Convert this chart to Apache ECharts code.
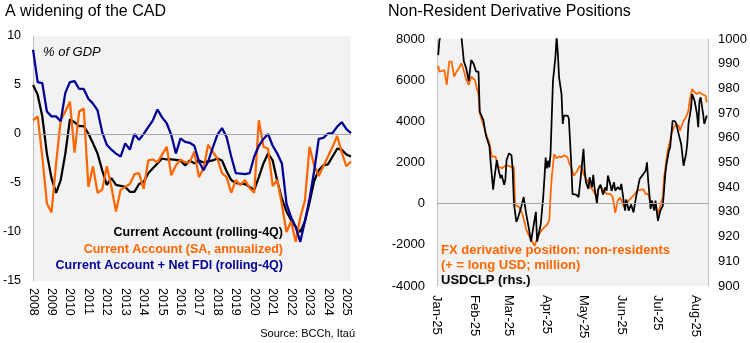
<!DOCTYPE html>
<html><head><meta charset="utf-8">
<script src="https://cdn.jsdelivr.net/npm/echarts@6/dist/echarts.min.js"></script>
<style>html,body{margin:0;padding:0;background:#fff}#c{width:750px;height:343px}</style>
</head><body><div id="c"></div>
<script>
// ---------- Left chart: quarterly, 2008Q1 .. 2025Q2 (% of GDP) ----------
const years = ['2008','2009','2010','2011','2012','2013','2014','2015','2016','2017','2018','2019','2020','2021','2022','2023','2024','2025'];
const caRolling = [5.0, 4.0, 1.8, -2.0, -4.5, -6.0, -4.7, -2.0, 1.5, 1.2,
  0.8, 0.8, 0.05, -0.95, -2.0, -3.7, -5.2, -4.5, -5.2, -5.3,
  -5.4, -5.9, -5.9, -5.1, -4.9, -4.0, -3.5, -3.0, -2.5, -2.6,
  -2.6, -2.65, -2.7, -3.2, -2.7, -3.0, -2.7, -2.9, -2.8, -2.7,
  -2.5, -2.7, -3.8, -4.7, -5.0, -5.1, -5.1, -5.4, -5.7, -4.4,
  -3.0, -2.0, -2.7, -4.8, -6.6, -7.9, -8.8, -9.5, -10.0, -8.9,
  -7.0, -4.8, -3.7, -3.2, -3.1, -2.3, -1.5, -1.6, -2.1, -2.3];
const caSA = [1.4, 1.8, -2.3, -7.1, -8.0, -3.0, 1.4, 2.3, 3.3, -1.9,
  2.3, 2.6, -5.4, -3.3, -6.0, -5.7, -3.3, -5.4, -7.9, -5.7,
  -5.4, -5.1, -4.1, -4.0, -5.6, -2.7, -2.6, -2.9, -2.1, -1.3,
  -4.2, -3.2, -2.6, -2.9, -2.9, -1.8, -4.4, -3.5, -1.1, -1.8,
  -2.5, -4.0, -4.4, -6.0, -4.7, -5.2, -4.7, -5.5, -6.0, 1.4,
  -1.3, -1.5, -5.3, -4.7, -7.2, -10.0, -8.9, -11.0, -8.5, -6.8,
  -1.3, -3.2, -4.3, -3.3, -2.3, -1.3, -0.2, -1.9, -3.3, -2.8];
const caFDI = [8.6, 5.3, 5.2, 2.3, 1.8, 1.8, 1.3, 4.2, 5.3, 5.4,
  4.6, 4.6, 3.6, 3.1, 2.4, 0.2, -1.1, -1.6, -2.0, -2.3,
  -0.95, -1.6, 0.0, -0.6, 0.0, 0.7, 1.4, 2.5, 1.7, 1.1,
  -0.1, -2.0, -0.45, -0.8, -0.9, -1.2, -2.8, -3.7, -2.8, -1.4,
  -0.1, 0.6, -0.3, -2.3, -4.0, -4.05, -4.1, -4.0, -2.3, -1.2,
  -0.5, 0.0, -1.2, -2.0, -3.0, -7.1, -8.5, -9.5, -11.0, -8.9,
  -6.6, -3.8, -0.5, -0.4, 0.05, 0.1, 0.75, 1.2, 0.5, 0.1];

// ---------- Right chart: daily, 2025 ----------
const monthLabels = ['Jan-25','Feb-25','Mar-25','Apr-25','May-25','Jun-25','Jul-25','Aug-25'];
const fxDates = ['01-02','01-03','01-07','01-08','01-09','01-11','01-13','01-14','01-15','01-17','01-19','01-21','01-23','01-25','01-27','01-29',
 '02-01','02-04','02-05','02-08','02-11','02-13','02-15','02-18','02-20','02-23','02-27',
 '03-02','03-05','03-06','03-09','03-12','03-15','03-17','03-20','03-22','03-24','03-26','03-29',
 '04-01','04-03','04-04','04-05','04-07','04-08','04-09','04-11','04-13','04-15','04-18','04-19','04-21','04-23','04-26','04-28','04-30',
 '05-01','05-04','05-06','05-09','05-12','05-14','05-18','05-20','05-23','05-25','05-26','05-27','05-29','05-31',
 '06-03','06-07','06-12','06-14','06-19','06-21','06-23','06-25','06-29',
 '07-01','07-03','07-04','07-05','07-06','07-09','07-11','07-12','07-14','07-16','07-18','07-19','07-20','07-22','07-24','07-26','07-27','07-29','07-30','07-31',
 '08-02','08-03','08-04','08-06','08-07','08-09','08-10'];
const fxValues = [6700,6410,6490,6410,5770,6900,6900,6820,6170,6410,6580,6820,6460,6010,5770,6170,
 6010,5280,4390,3820,3250,2930,2280,2280,1800,1720,1880,
 1800,1770,-70,-150,-500,-1230,-1520,-1850,-2050,-1700,-1440,-1200,
 -1040,-800,400,1280,2410,2500,2200,2300,2250,2350,2250,2010,1770,1360,1600,1850,1700,
 1440,1120,870,630,310,870,630,470,470,310,400,-450,150,300,
 -150,150,470,630,710,470,480,-15,-15,
 -500,-100,145,310,1280,2580,3060,3390,3710,3870,3790,3550,3710,4030,4200,4520,5000,5570,5650,5410,
 5330,5245,5410,5330,5245,5245,4925];
const clpDates = ['01-02','01-03','01-06','01-09','01-12','01-16','01-19','01-21','01-23','01-25','01-27','01-29','01-31',
 '02-02','02-04','02-05','02-08','02-10','02-11','02-13','02-14','02-16','02-17','02-19','02-20','02-22','02-23','02-25','02-26','02-27',
 '03-01','03-03','03-04','03-05','03-07','03-08','03-11','03-13','03-15','03-17','03-19','03-20','03-23','03-24','03-27','03-29','03-30','03-31',
 '04-01','04-02','04-03','04-04','04-05','04-06','04-08','04-09','04-10','04-11','04-13','04-14','04-15','04-18','04-19','04-21','04-22','04-25','04-27','04-29',
 '05-01','05-02','05-03','05-05','05-06','05-08','05-09','05-10','05-12','05-13','05-15','05-17','05-19','05-20','05-21','05-23','05-24','05-26','05-27','05-29','05-31',
 '06-01','06-04','06-05','06-07','06-09','06-11','06-13','06-14','06-16','06-19','06-21','06-22','06-23','06-25','06-26','06-28','06-29',
 '07-01','07-03','07-05','07-07','07-08','07-10','07-11','07-13','07-15','07-16','07-18','07-20','07-22','07-24','07-25','07-26','07-28','07-29','07-30','07-31',
 '08-02','08-03','08-04','08-05','08-07','08-08','08-10'];
const clpValues = [993.5,999.6,1004,1008,1012,1010,1005,1001,991,988,983,991.5,990,
 986.8,986.8,970.6,967.2,961.1,961.8,956.4,949.7,939,943.6,951,948,943.6,945,941,943,951,
 953.7,953,947,933.5,926,927,932,936,929.4,924,918,918,930,918,925,936,943.6,952,
 947.6,950.7,948,953.4,968.3,983,992.6,1001,994,984.5,977.7,965.6,969,969,967.8,949.4,937.2,937,936,945.3,
 955.5,946.7,942,939.3,944,940,945,940,933.2,939,941,937,940,938.6,944.7,941,938.5,942,938.6,940,939,
 941.3,930.5,935,930.5,933,929.8,935.9,935.9,943.3,945.3,946.7,950.1,942.8,931.2,934.6,930.5,934.6,
 926.4,930.5,932.5,945.3,949.4,954.8,956.1,966.9,966.7,965.6,961.5,957.5,948.7,953.4,957.5,965.6,971.7,977.7,976.4,975,
 969.6,964.3,975,976.4,969.6,965.6,969];

// ---------- build categories ----------
const quarters = [];
years.forEach(y => { for (let q = 1; q <= 4; q++) quarters.push(y + 'Q' + q); });
quarters.length = caRolling.length;

const dayCats = [];
for (let d = 0; d <= 222; d++) {
  const dt = new Date(Date.UTC(2025, 0, 1 + d));
  dayCats.push(String(dt.getUTCMonth() + 1).padStart(2, '0') + '-' + String(dt.getUTCDate()).padStart(2, '0'));
}
const toPairs = (dates, vals) => dates.map((s, i) => [dayCats.indexOf(s), vals[i]]);
const plain = (v) => String(v);

const FONT = '"Liberation Sans", Arial, sans-serif';
const ORANGE = '#ff6600', BLUE = '#000096', BLACK = '#000000';
const zeroLine = { silent: true, symbol: 'none', label: { show: false },
  lineStyle: { color: '#a6a6a6', width: 1, type: 'solid' }, data: [{ yAxis: 0 }] };

const chart = echarts.init(document.getElementById('c'), null, { renderer: 'canvas' });
chart.setOption({
  animation: false,
  backgroundColor: '#ffffff',
  textStyle: { fontFamily: FONT },
  grid: [
    { left: 32, right: 399, top: 36, bottom: 62, show: true, backgroundColor: '#f2f2f2', borderWidth: 0 },
    { left: 437, right: 42, top: 39, bottom: 57, show: true, backgroundColor: '#f2f2f2', borderWidth: 0 }
  ],
  xAxis: [
    { type: 'category', gridIndex: 0, data: quarters, boundaryGap: false,
      axisLine: { show: false }, axisTick: { show: false }, splitLine: { show: false },
      axisLabel: { interval: (i) => i % 4 === 0, formatter: (v) => v.slice(0, 4), rotate: -90,
        margin: 7, fontSize: 12.5, color: '#000', fontFamily: FONT } },
    { type: 'category', gridIndex: 1, data: dayCats, boundaryGap: false,
      axisLine: { show: false }, axisTick: { show: false }, splitLine: { show: false },
      axisLabel: { interval: (i, v) => v.endsWith('-01'), formatter: (v) => monthLabels[+v.slice(0, 2) - 1],
        rotate: -90, margin: 9, fontSize: 13, color: '#000', fontFamily: FONT } }
  ],
  yAxis: [
    { type: 'value', gridIndex: 0, min: -15, max: 10, interval: 5,
      axisLine: { show: true, lineStyle: { color: '#bfbfbf' } }, axisTick: { show: false }, splitLine: { show: false },
      axisLabel: { fontSize: 12.5, color: '#000', margin: 12, fontFamily: FONT, formatter: plain } },
    { type: 'value', gridIndex: 1, min: -4000, max: 8000, interval: 2000,
      axisLine: { show: true, lineStyle: { color: '#bfbfbf' } }, axisTick: { show: false }, splitLine: { show: false },
      axisLabel: { fontSize: 13, color: '#000', margin: 12, fontFamily: FONT, formatter: plain } },
    { type: 'value', gridIndex: 1, position: 'right', min: 900, max: 1000, interval: 10,
      axisLine: { show: true, lineStyle: { color: '#bfbfbf' } }, axisTick: { show: false }, splitLine: { show: false },
      axisLabel: { fontSize: 13, color: '#000', margin: 10, fontFamily: FONT, formatter: plain } }
  ],
  series: [
    { type: 'line', xAxisIndex: 0, yAxisIndex: 0, data: caRolling, symbol: 'none', clip: true,
      lineStyle: { color: BLACK, width: 2.25 }, markLine: zeroLine, z: 2 },
    { type: 'line', xAxisIndex: 0, yAxisIndex: 0, data: caSA, symbol: 'none', clip: true,
      lineStyle: { color: ORANGE, width: 2.25 }, z: 3 },
    { type: 'line', xAxisIndex: 0, yAxisIndex: 0, data: caFDI, symbol: 'none', clip: true,
      lineStyle: { color: BLUE, width: 2.25 }, z: 4 },
    { type: 'line', xAxisIndex: 1, yAxisIndex: 1, data: toPairs(fxDates, fxValues), symbol: 'none', clip: true,
      lineStyle: { color: ORANGE, width: 1.75 }, markLine: zeroLine, z: 2 },
    { type: 'line', xAxisIndex: 1, yAxisIndex: 2, data: toPairs(clpDates, clpValues), symbol: 'none', clip: true,
      lineStyle: { color: BLACK, width: 1.75 }, z: 3 }
  ],
  graphic: [
    { type: 'text', x: 5, y: 12, style: { text: 'A widening of the CAD', fill: '#000', font: '16px ' + FONT, verticalAlign: 'middle' } },
    { type: 'text', x: 388, y: 12, style: { text: 'Non-Resident Derivative Positions', fill: '#000', font: '16px ' + FONT, verticalAlign: 'middle' } },
    { type: 'text', x: 43, y: 52, style: { text: '% of GDP', fill: '#000', font: 'italic 13px ' + FONT, verticalAlign: 'middle' } },
    { type: 'text', x: 283, y: 233, style: { text: 'Current Account (rolling-4Q)', fill: BLACK, font: 'bold 12.5px ' + FONT, align: 'right', verticalAlign: 'middle' } },
    { type: 'text', x: 283, y: 250, style: { text: 'Current Account (SA, annualized)', fill: ORANGE, font: 'bold 12.5px ' + FONT, align: 'right', verticalAlign: 'middle' } },
    { type: 'text', x: 283, y: 266, style: { text: 'Current Account + Net FDI (rolling-4Q)', fill: BLUE, font: 'bold 12.5px ' + FONT, align: 'right', verticalAlign: 'middle' } },
    { type: 'text', x: 355, y: 334, style: { text: 'Source: BCCh, Itaú', fill: '#000', font: '11px ' + FONT, align: 'right', verticalAlign: 'middle' } },
    { type: 'text', x: 441, y: 250, style: { text: 'FX derivative position: non-residents', fill: ORANGE, font: 'bold 13px ' + FONT, verticalAlign: 'middle' } },
    { type: 'text', x: 441, y: 265, style: { text: '(+ = long USD; million)', fill: ORANGE, font: 'bold 13px ' + FONT, verticalAlign: 'middle' } },
    { type: 'text', x: 441, y: 280, style: { text: 'USDCLP (rhs.)', fill: BLACK, font: 'bold 13px ' + FONT, verticalAlign: 'middle' } }
  ]
});
</script></body></html>
